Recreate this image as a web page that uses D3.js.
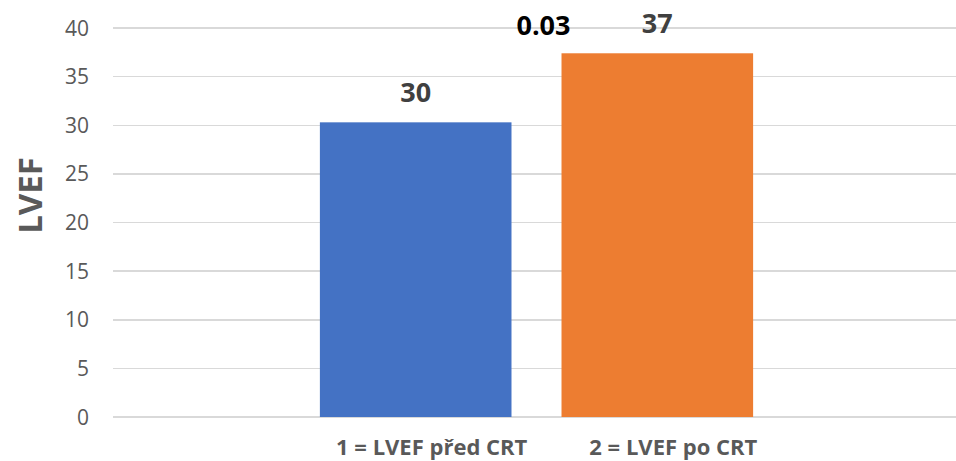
<!DOCTYPE html>
<html lang="cs">
<head>
    <meta charset="UTF-8">
    <title>LVEF</title>
    <style>
        body { margin: 0; background: #fff; }
        .grid line { stroke: #d9d9d9; stroke-width: 1.5; shape-rendering: crispEdges; }
        .tick-label { font-family: "Open Sans", sans-serif; font-size: 21px; fill: #595959; }
        .cat-label { font-family: "Open Sans", sans-serif; font-size: 22px; font-weight: bold; fill: #595959; }
        .value-label { font-family: "Open Sans", sans-serif; font-size: 27px; font-weight: bold; fill: #404040; }
        .p-label { font-family: "Open Sans", sans-serif; font-size: 27px; font-weight: bold; fill: #000; }
        .axis-title { font-family: "Open Sans", sans-serif; font-size: 33px; font-weight: bold; fill: #595959; }
    </style>
</head>
<body>
<svg width="956" height="461"></svg>
<script src="https://d3js.org/d3.v7.min.js"></script>
<script>
    const categories = ["1 = LVEF před CRT", "2 = LVEF po CRT"];
    const values = [30.3, 37.4];
    const valueLabels = ["30", "37"];
    const pValue = "0.03";
    const yTicks = [0, 5, 10, 15, 20, 25, 30, 35, 40];
    const colors = ["#4472C4", "#ED7D31"];

    const svg = d3.select("svg"),
        margin = {top: 28, right: 0, bottom: 44, left: 113},
        width = +svg.attr("width") - margin.left - margin.right,
        height = +svg.attr("height") - margin.top - margin.bottom;

    const y = d3.scaleLinear().domain([0, 40]).range([margin.top + height, margin.top]);

    const x = d3.scaleBand()
        .domain(categories)
        .range([295, 778])
        .paddingInner(0.207)
        .paddingOuter(0.103);

    // gridlines
    svg.append("g").attr("class", "grid")
        .selectAll("line")
        .data(yTicks)
        .join("line")
        .attr("x1", margin.left)
        .attr("x2", margin.left + width)
        .attr("y1", d => y(d))
        .attr("y2", d => y(d));

    // y tick labels
    svg.append("g")
        .selectAll("text")
        .data(yTicks)
        .join("text")
        .attr("class", "tick-label")
        .attr("x", 89)
        .attr("y", d => y(d))
        .attr("dy", "0.36em")
        .attr("text-anchor", "end")
        .text(d => d);

    // bars
    svg.append("g")
        .selectAll("rect")
        .data(values)
        .join("rect")
        .attr("x", (d, i) => x(categories[i]))
        .attr("width", x.bandwidth())
        .attr("y", d => y(d))
        .attr("height", d => y(0) - y(d))
        .attr("fill", (d, i) => colors[i]);

    // value labels
    svg.append("g")
        .selectAll("text")
        .data(values)
        .join("text")
        .attr("class", "value-label")
        .attr("x", (d, i) => x(categories[i]) + x.bandwidth() / 2)
        .attr("y", d => y(d) - 20)
        .attr("text-anchor", "middle")
        .text((d, i) => valueLabels[i]);

    // p-value between the bars
    const midX = (x(categories[0]) + x(categories[1]) + x.bandwidth()) / 2;
    svg.append("text")
        .attr("class", "p-label")
        .attr("x", midX + 7)
        .attr("y", y(d3.max(values)) - 18)
        .attr("text-anchor", "middle")
        .text(pValue);

    // category labels
    svg.append("g")
        .selectAll("text")
        .data(categories)
        .join("text")
        .attr("class", "cat-label")
        .attr("x", d => x(d) + x.bandwidth() / 2 + 16)
        .attr("y", y(0) + 38)
        .attr("text-anchor", "middle")
        .text(d => d);

    // axis title
    svg.append("text")
        .attr("class", "axis-title")
        .attr("transform", `translate(42,${(y(0) + y(40)) / 2 - 27}) rotate(-90)`)
        .attr("text-anchor", "middle")
        .text("LVEF");
</script>
</body>
</html>
